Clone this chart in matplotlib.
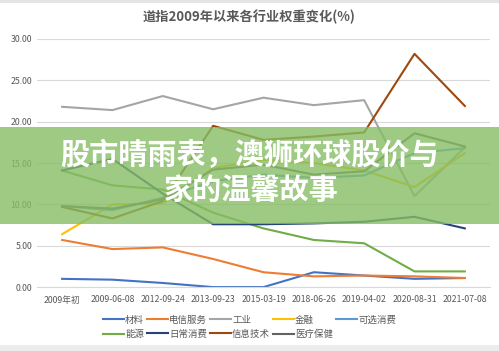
import matplotlib
matplotlib.use('Agg')
import matplotlib.pyplot as plt
from matplotlib.patches import Rectangle

plt.rcParams['font.family'] = ['Noto Sans CJK SC', 'DejaVu Sans']

# 数据
dates = ['2009年初', '2009-06-08', '2012-09-24', '2013-09-23', '2015-03-19',
         '2018-06-26', '2019-04-02', '2020-08-31', '2021-07-08']

cailiao = [1.0, 0.9, 0.5, 0.0, 0.0, 1.8, 1.4, 1.0, 1.1]
dianxin = [5.7, 4.6, 4.8, 3.4, 1.8, 1.3, 1.4, 1.3, 1.1]
gongye = [21.8, 21.4, 23.1, 21.5, 22.9, 22.0, 22.6, 11.0, 16.9]
jinrong = [6.4, 10.0, 10.1, 14.4, 15.4, 15.0, 14.1, 12.1, 16.2]
kexuan = [9.8, 9.3, 10.8, 12.8, 13.6, 13.2, 13.5, 16.2, 16.8]
nengyuan = [14.1, 12.3, 11.8, 9.0, 7.1, 5.7, 5.3, 1.9, 1.9]
richang = [14.1, 15.5, 11.3, 7.6, 7.6, 7.7, 7.9, 8.5, 7.1]
xinxi = [9.7, 8.3, 10.4, 19.5, 17.8, 18.2, 18.7, 28.2, 21.9]
yiliao = [9.8, 9.5, 10.6, 14.2, 14.8, 13.6, 14.0, 18.6, 17.0]

series = [
    ('材料', cailiao, '#4472C4'),
    ('电信服务', dianxin, '#ED7D31'),
    ('工业', gongye, '#A5A5A5'),
    ('金融', jinrong, '#FFC000'),
    ('可选消费', kexuan, '#5B9BD5'),
    ('能源', nengyuan, '#70AD47'),
    ('日常消费', richang, '#264478'),
    ('信息技术', xinxi, '#9E480E'),
    ('医疗保健', yiliao, '#636363'),
]

fig = plt.figure(figsize=(4.99, 3.51), dpi=100)
ax = fig.add_axes([0.074, 0.182, 0.908, 0.707])

x = list(range(len(dates)))
lines = []
for name, vals, col in series:
    ln, = ax.plot(x, vals, color=col, lw=1.5, label=name)
    lines.append(ln)

ax.set_xlim(-0.5, len(dates) - 0.5)
ax.set_ylim(0, 30)
ax.set_yticks([0, 5, 10, 15, 20, 25, 30])
ax.set_yticklabels([f'{v:.2f}' for v in [0, 5, 10, 15, 20, 25, 30]])
ax.set_xticks(x)
ax.set_xticklabels(dates)
ax.tick_params(axis='both', length=0, labelsize=6.3, colors='#595959')
ax.tick_params(axis='x', pad=6)
ax.grid(axis='y', color='#d9d9d9', lw=0.8)
ax.set_axisbelow(True)
for s in ['top', 'right', 'left']:
    ax.spines[s].set_visible(False)
ax.spines['bottom'].set_color('#d9d9d9')

fig.text(0.5, 0.952, '道指2009年以来各行业权重变化(%)', ha='center', va='center',
         fontsize=9.5, fontweight='bold', color='#595959')

# 图例按行排列
order = [0, 5, 1, 6, 2, 7, 3, 8, 4]
fig.legend([lines[i] for i in order], [series[i][0] for i in order],
           loc='upper center', bbox_to_anchor=(0.5, 0.125), ncol=5, frameon=False,
           fontsize=6.8, handlelength=2.2, handletextpad=0.15, columnspacing=0.3,
           labelspacing=0.5, labelcolor='#595959')

# 边框条
fig.patches.append(Rectangle((0, 0.991), 1, 0.009, transform=fig.transFigure,
                             facecolor='#e4e4e4', edgecolor='none'))
fig.patches.append(Rectangle((0, 0), 1, 0.017, transform=fig.transFigure,
                             facecolor='#ececec', edgecolor='none'))

# 绿色横幅
fig.patches.append(Rectangle((0, 0.362), 1, 0.276, transform=fig.transFigure,
                             facecolor='#86bd64', edgecolor='none', alpha=0.8, zorder=5))
fig.text(0.5, 0.558, '股市晴雨表，澳狮环球股价与', ha='center', va='center',
         fontsize=21, fontweight='bold', color='white', zorder=6)
fig.text(0.503, 0.458, '家的温馨故事', ha='center', va='center',
         fontsize=21, fontweight='bold', color='white', zorder=6)

fig.savefig('out.png', dpi=100)
